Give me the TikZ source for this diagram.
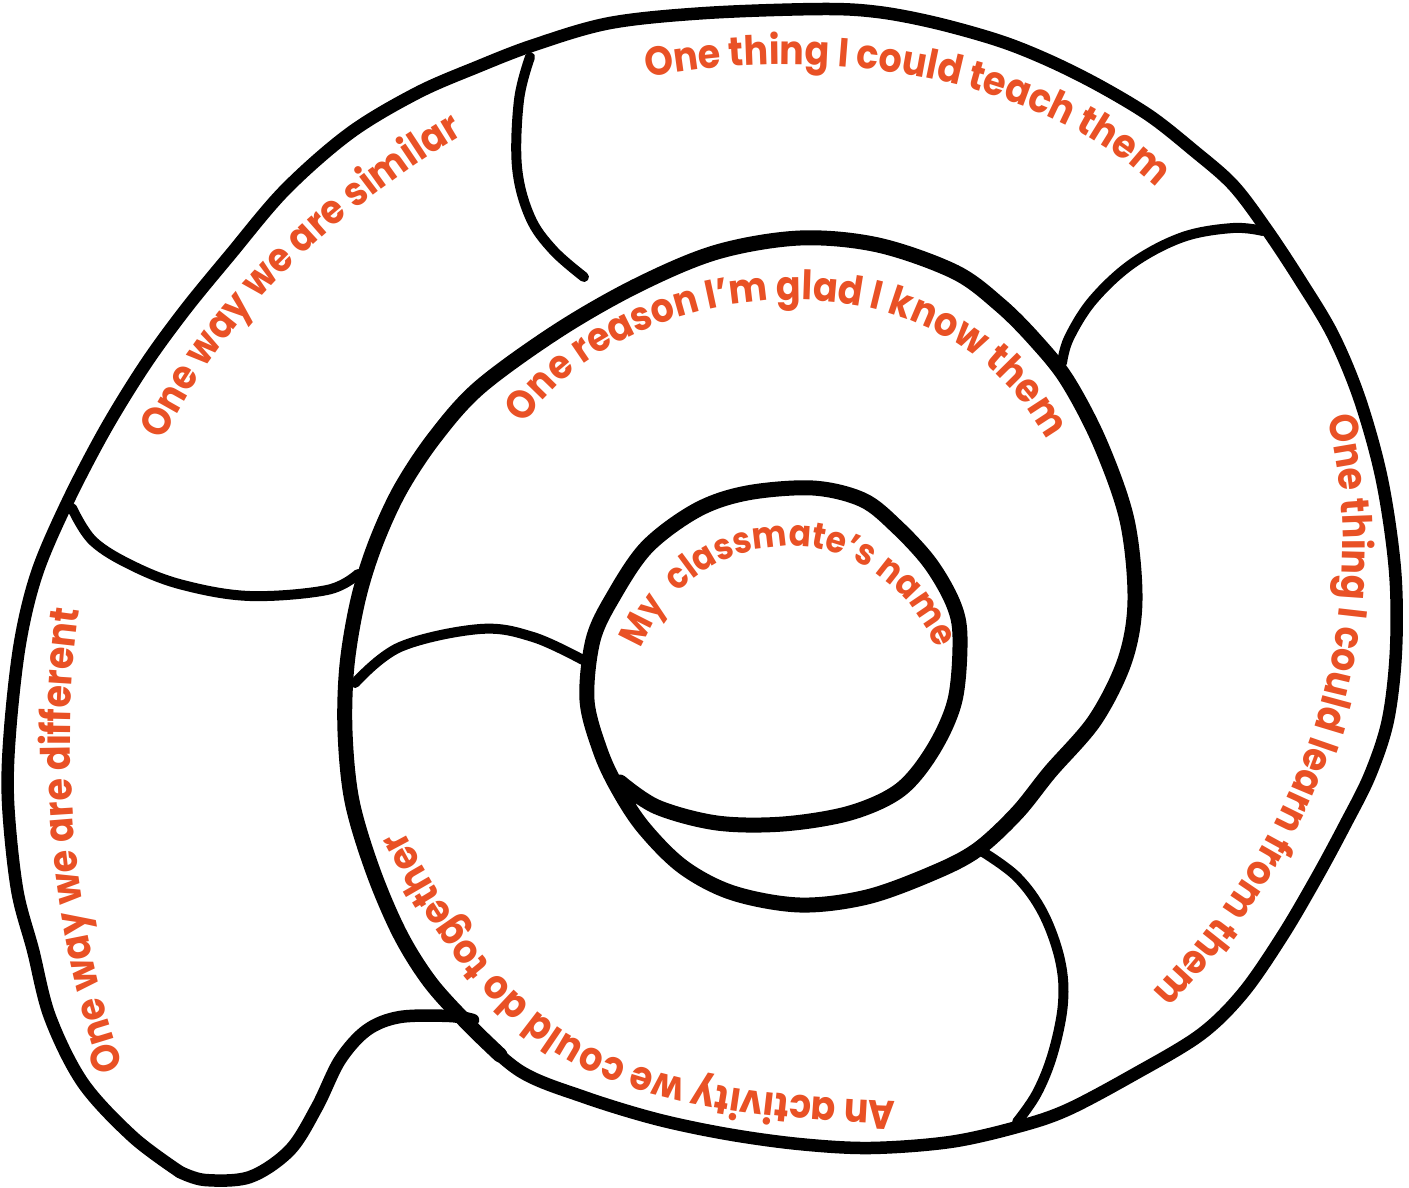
\documentclass[tikz,border=0pt]{standalone}
\usepackage{fontspec}
\newfontfamily\poppinsfont{Poppins}[FakeStretch=0.9]
\usetikzlibrary{decorations.text}
\definecolor{orng}{RGB}{233,81,37}
\newcommand\lab{\fontsize{40.5}{47}\selectfont\poppinsfont\bfseries\color{orng}}
\newcommand\labc{\fontsize{36.5}{43}\selectfont\poppinsfont\bfseries\color{orng}}
\tikzset{
 outerline/.style={line width=12.5pt, line cap=round, line join=round},
 innerline/.style={line width=15pt, line cap=round, line join=round},
 divider/.style={line width=10pt, line cap=round, line join=round},
 lbl/.style={decorate, decoration={text along path, text align=center, text={|\lab|#1}}},
 lblc/.style={decorate, decoration={text along path, text align=center, text={|\labc|#1}}}
}
\begin{document}
\begin{tikzpicture}[x=1pt,y=-1pt]
\useasboundingbox[fill=white] (0,0) rectangle (1409,1187);
% whole spiral, from the centre outwards
\draw[outerline] plot[smooth, tension=0.55] coordinates {
 (620,782) (657,807) (717,823) (783,824) (850,813) (900,790) (933,750) (955,700)
 (960,637) (953,603) (930,563) (897,527) (863,500) (813,488) (747,493) (697,510)
 (647,547) (613,597) (593,640) (587,700) (600,750) (617,787) (643,827) (683,867)
 (733,893) (800,905) (867,897) (933,873) (977,850) (1017,813) (1050,772) (1095,720)
 (1125,660) (1135,600) (1127,520) (1100,443) (1067,380) (1035,340) (1000,305)
 (955,272) (878,245) (800,238) (717,252) (638,285) (559,330) (480,387) (435,437)
 (400,490) (375,545) (358,600) (347,665) (345,731) (352,801) (373,871) (400,934)
 (430,982) (467,1023) (520,1071) (584,1097) (656,1119)
 (727,1134) (799,1144) (870,1148) (950,1142) (1017,1127) (1067,1110) (1133,1075)
 (1200,1035) (1243,993) (1283,935) (1317,877) (1345,825) (1370,775) (1388,720)
 (1396,650) (1395,570) (1382,480) (1360,400) (1333,335) (1300,280) (1267,230)
 (1233,185) (1193,150) (1150,116) (1100,86) (1050,61) (1000,41) (936,23) (878,12)
 (821,9) (706,13) (610,23) (534,45) (477,67) (417,93) (350,133) (285,190)
 (230,255) (185,310) (145,365) (105,430) (67,503) (37,573) (20,643)
 (10,731) (8,801) (17,889) (33,950) (50,1017) (83,1083) (133,1137) (180,1172)};
% thicker inner turns
\draw[innerline] plot[smooth, tension=0.55] coordinates {
 (620,782) (657,807) (717,823) (783,824) (850,813) (900,790) (933,750) (955,700)
 (960,637) (953,603) (930,563) (897,527) (863,500) (813,488) (747,493) (697,510)
 (647,547) (613,597) (593,640) (587,700) (600,750) (617,787) (643,827) (683,867)
 (733,893) (800,905) (867,897) (933,873) (977,850) (1017,813) (1050,772) (1095,720)
 (1125,660) (1135,600) (1127,520) (1100,443) (1067,380) (1035,340) (1000,305)
 (955,272) (878,245) (800,238) (717,252) (638,285) (559,330) (480,387) (435,437)
 (400,490) (375,545) (358,600) (347,665) (345,731) (352,801) (373,871) (400,934)
 (430,982) (467,1023) (500,1055)};
% tail
\draw[outerline] plot[smooth, tension=0.55] coordinates {
 (180,1172) (205,1180) (250,1177) (290,1150) (317,1107) (340,1060) (367,1030)
 (400,1017) (450,1016) (473,1020)};
% dividers
\draw[divider] plot[smooth, tension=0.6] coordinates {(530,57) (519,100) (517,167) (530,217) (553,250) (584,277)};
\draw[divider] plot[smooth, tension=0.6] coordinates {(72,508) (93,541) (133,566) (183,585) (250,596) (327,590) (358,574)};
\draw[divider] plot[smooth, tension=0.6] coordinates {(1263,231) (1233,228) (1183,237) (1133,263) (1093,300) (1069,338) (1062,363)};
\draw[divider] plot[smooth, tension=0.6] coordinates {(355,683) (400,647) (480,629) (533,637) (583,660)};
\draw[divider] plot[smooth, tension=0.6] coordinates {(983,852) (1017,877) (1043,913) (1060,960) (1063,1003) (1053,1053) (1037,1093) (1017,1122)};
% labels
\path[lbl={One way we are similar}] (162,446) .. controls (212,330) and (330,212) .. (468,132);
\path[lbl={One thing I could teach them}] (628,82) .. controls (800,40) and (1050,70) .. (1170,202);
\path[lbl={One reason I’m glad I know them}] (522,430) .. controls (600,290) and (930,220) .. (1050,445);
\path[lblc={My {\rule{9pt}{0pt}}classmate’s name}] (628,700) .. controls (655,500) and (915,490) .. (950,700);
\path[lbl={One thing I could learn from them}] (1322,400) .. controls (1370,560) and (1345,800) .. (1140,1005);
\path[lbl={An activity we could do together}] (912,1102) .. controls (780,1098) and (650,1085) .. (570,1035) .. controls (490,985) and (440,900) .. (396,815);
\path[lbl={One way we are different}] (132,1088) .. controls (75,950) and (55,750) .. (83,588);
\end{tikzpicture}
\end{document}
